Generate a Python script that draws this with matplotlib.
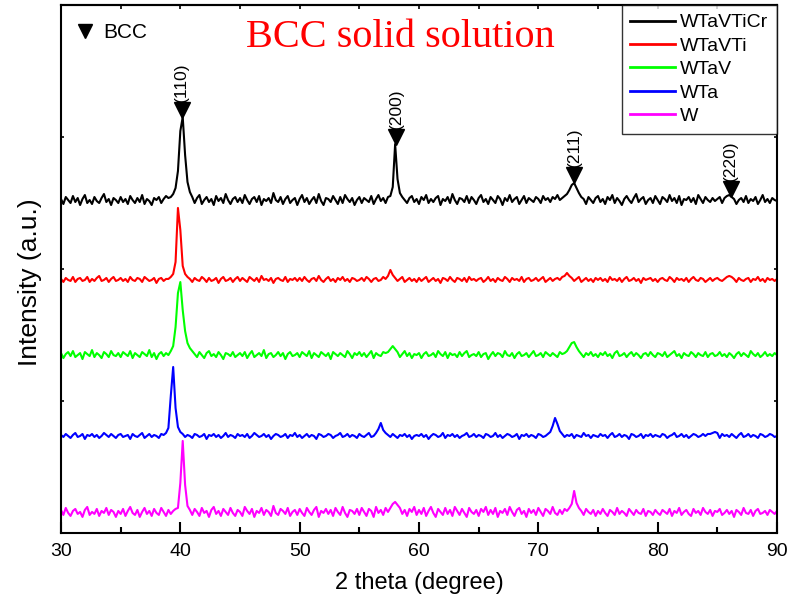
import numpy as np
import matplotlib
matplotlib.use("Agg")
import matplotlib.pyplot as plt

# 2theta grid, 0.2 degree step from 30 to 90
two_theta = np.round(30 + 0.2 * np.arange(301), 1)

# intensities (relative to each baseline, pixel units)
wtavticr = [
    2, -3, 4, 1, -2, 5, -1, 3, -4, 2, 6, -2, 1, -3, 4, 0, -2, 3, 7, -1, 2, -4, 3, 1, -2,
    4, -1, 2, -3, 5, 1, -2, 3, -1, 6, -3, 2, 0, -4, 3, 1, 4, -2, 2, 5, 3, 4, 7, 13, 30,
    70, 84, 46, 19, 9, 4, -2, 3, 6, -3, 1, 4, -1, 2, -4, 5, 0, 3, -2, 7, 1, -3, 2, 4, -1,
    3, -2, 6, 1, -3, 2, 4, -1, 5, -4, 2, 0, 3, -2, 8, 1, -1, 4, -3, 2, 5, -2, 1, 3, -4,
    2, 6, -1, 3, -3, 1, 4, -2, 7, 0, -4, 3, 2, -1, 5, 1, -3, 4, -2, 6, 2, -1, 3, -4, 1,
    4, -2, 3, 1, -1, 5, -3, 2, 6, 0, 3, -2, 4, 5, 14, 57, 22, 8, 4, 1, -2, 3, 5, -1, 2,
    -3, 4, 1, 6, -2, 2, -1, 3, 5, -4, 2, 0, 4, -2, 7, 1, -3, 3, 2, -1, 5, -2, 4, 1, -3,
    3, 6, -1, 2, -3, 4, 1, -2, 5, 2, -4, 3, 0, 6, -1, 2, 4, -3, 1, 5, -2, 3, 1, -1, 4,
    2, -2, 5, 1, 3, -1, 4, 2, 6, 1, 3, 5, 7, 11, 16, 18, 13, 8, 4, 2, -3, 4, 1, -2, 3,
    5, -1, 2, -3, 4, 1, 6, -2, 3, 0, -4, 2, 5, 1, -2, 3, 7, -1, 2, 4, -3, 1, 3, -2, 5,
    1, -3, 4, 2, -1, 6, 0, 3, -2, 5, -4, 2, 1, 4, -1, 3, -3, 6, 2, -2, 4, 1, -1, 3, 0,
    2, 4, -2, 3, 5, 6, 4, 2, -3, 1, 3, -1, 5, -2, 2, 0, 4, -3, 1, 6, -1, 2, -2, 3, 1,
    0]
wtavti = [
    1, -2, 2, 0, -1, 3, -2, 1, 2, -1, 0, 3, -2, 1, -1, 2, 4, -1, 0, 2, -2, 1, 3, -1, 0,
    2, -1, 1, -2, 3, 0, -1, 2, 1, -2, 3, 1, -1, 0, 2, -3, 1, 2, -1, 1, 1, 3, 6, 18, 72,
    50, 14, 6, 3, 1, -2, 2, 0, -1, 3, 1, -2, 2, -1, 0, 2, -3, 1, 3, -1, 0, 2, -2, 1, 3,
    -1, 2, 0, -2, 3, 1, -1, 2, -2, 4, 0, 1, -1, 2, -3, 1, 2, 0, -1, 3, -2, 1, 0, 2, -1,
    2, -1, 3, 0, -2, 1, 2, -1, 4, 0, -2, 1, 3, -1, 1, -2, 2, 0, 3, -1, 1, -2, 2, 1, -1,
    0, 2, -1, 3, 1, -2, 1, 2, -1, 0, 3, 1, 4, 10, 5, 2, -1, 1, 3, -2, 0, 2, -1, 1, -2,
    2, -1, 1, 3, -2, 0, 2, -1, 1, -3, 2, 1, -1, 3, 0, -2, 2, 1, -1, 2, -2, 3, 0, 1, -1,
    1, 2, -2, 0, 3, -1, 1, -2, 2, 0, -1, 3, 1, -2, 2, 0, 1, -1, 3, -2, 1, 2, -1, 0, 2,
    -1, 1, 3, -2, 0, 2, -1, 1, 2, 0, 3, 4, 7, 4, 2, -1, 1, 3, -2, 0, 2, -1, 1, -2, 2,
    0, 2, -1, 1, -2, 3, 0, 1, -1, 2, -2, 1, 3, -1, 0, 2, -1, 1, -3, 2, 0, 1, 2, -1, 1,
    -2, 1, 2, 0, -1, 3, 1, -2, 2, 0, 1, -1, 2, -2, 1, 3, 0, -1, 2, 1, -2, 0, 2, -1, 1,
    2, 0, -1, 1, 3, 4, 3, 1, -2, 2, 0, -1, 1, 2, -2, 1, 0, 3, -1, 1, -2, 2, 0, 1, -1,
    1]
wtav = [
    2, -3, 1, 3, -1, 4, -2, 0, 2, -4, 3, 1, -1, 5, -2, 2, 0, -3, 3, 1, -2, 4, 0, -1, 2,
    -2, 3, 1, -1, 4, -3, 2, 0, -2, 3, 1, -1, 5, -2, 2, -4, 1, 3, -1, 2, 0, 4, 9, 28, 62,
    73, 45, 24, 12, 7, 4, 1, -2, 3, 0, -3, 2, 4, -1, 1, -2, 3, 0, -4, 2, 1, -1, 3, -2, 0,
    2, -1, 3, -3, 1, 4, -2, 0, 2, -1, 5, -3, 1, 2, -2, 0, 3, -1, 2, -4, 1, 3, -1, 0, 2,
    -2, 3, 1, -1, 4, -3, 2, 0, -2, 3, 1, -1, 2, -4, 3, 1, -1, 2, 0, -2, 4, 1, -3, 2, 0,
    3, -1, 2, -2, 1, 4, -3, 2, 0, -1, 3, 2, 3, 6, 9, 6, 3, -2, 1, 4, -1, 2, -3, 1, 0,
    2, -3, 1, 3, -1, 0, 2, -2, 4, 1, -1, 3, -3, 2, 0, 1, -2, 3, -1, 2, 4, -2, 0, 1, -1,
    3, -2, 1, 2, -4, 0, 3, -1, 2, 1, -2, 4, 0, -1, 2, -3, 1, 3, -1, 0, 2, -2, 1, 4, -1,
    0, 2, -2, 3, 1, -1, 2, 0, -2, 3, 1, 2, 4, 8, 12, 13, 8, 4, 1, -2, 2, 0, 3, -1, 1,
    -2, 2, 0, 3, -1, 1, -3, 2, 4, -1, 0, 2, -2, 1, 3, -1, 2, 0, -3, 1, 2, -1, 3, 0, -2,
    2, 1, -1, 3, -2, 0, 2, 4, -1, 1, -3, 2, 0, -1, 3, 1, -2, 2, 0, -1, 3, -2, 1, 2, -1,
    0, 3, -1, 1, -2, 2, 0, -3, 1, 3, -1, 2, 0, -2, 4, 1, -1, 2, -2, 0, 3, -1, 1, -1, 2,
    0]
wta = [
    1, -1, 2, 0, -2, 1, 3, -1, 0, 2, -3, 1, 0, 2, -1, 1, -2, 0, 3, 1, -1, 2, 0, -2, 1,
    2, -1, 0, 1, -3, 2, 0, -1, 1, 3, -2, 0, 2, -1, 1, 0, -2, 2, 1, 3, 8, 40, 69, 28, 9,
    4, 2, -1, 1, 0, -2, 2, 1, -1, 0, 2, -3, 1, 0, 2, -1, 1, -2, 0, 3, -1, 1, 0, -2, 2,
    0, 1, -1, 2, -2, 0, 3, 1, -1, 0, 2, -1, 1, -3, 0, 2, 1, -1, 0, 2, -2, 1, 0, 3, -1,
    1, -2, 0, 2, -1, 1, 0, -3, 2, 1, -1, 0, 2, 1, -2, 0, 1, 3, -1, 0, 2, -1, 1, 0, -2,
    2, 0, -1, 1, 3, -1, 0, 3, 7, 13, 6, 3, 1, -1, 2, 0, -2, 1, 0, 2, -1, 1, -3, 0, 1,
    0, 2, -1, 1, -3, 0, 2, 1, -1, 0, 3, -2, 1, 0, 2, -1, 1, -2, 0, 1, 3, -1, 0, 2, -1,
    1, 0, -2, 2, 1, -1, 0, 3, -1, 1, -2, 0, 2, 1, -1, 0, 2, -3, 1, 0, 2, -1, 1, 0, -2,
    2, 1, -1, 0, 2, 4, 10, 18, 12, 5, 2, -1, 1, 0, 2, -2, 1, 0, -1, 3, 0, 1, -2, 1, 0,
    -1, 2, 0, 1, -2, 1, 3, -1, 0, 2, -1, 1, 0, -3, 2, 1, -1, 0, 2, -2, 1, 0, 2, -1, 1,
    0, -1, 2, 1, -2, 0, 1, 3, -1, 0, 2, -1, 1, -2, 0, 2, 1, -1, 0, 2, 0, 2, 2, 3, 4,
    3, -2, 2, 0, 1, -1, 2, 0, -2, 1, 3, -1, 0, 2, -1, 1, 0, -2, 2, 1, -1, 0, 2, 1, -1,
    0]
w = [
    3, -2, 5, 0, -3, 2, 4, -1, 1, -4, 3, 6, -2, 1, -1, 4, -3, 2, 0, 5, -2, 3, 1, -4, 2,
    -1, 4, -3, 2, 6, 0, -2, 3, -4, 1, 5, -1, 2, -3, 4, 0, -2, 5, 1, -3, 3, -1, 2, 4, 5,
    30, 72, 28, 7, 3, -2, 4, 1, -3, 5, 0, 2, -4, 3, 6, -1, 2, -3, 4, 1, -2, 5, 0, -3, 3,
    1, -3, 6, 2, -1, 4, -4, 2, 0, 5, -2, 3, 1, -3, 7, 0, -2, 4, 2, -1, 5, -3, 1, 3, -2,
    4, 0, -3, 5, 1, -2, 3, 6, -4, 2, 0, 4, -1, 3, -3, 5, 1, -2, 6, 0, -4, 3, 2, -1, 4,
    -2, 5, 1, -3, 4, 2, -4, 6, 0, 3, -2, 5, 1, 5, 9, 11, 8, 5, -1, 3, -3, 4, 1, 6, -2,
    3, -1, 5, -3, 2, 6, 0, -4, 4, 1, -2, 5, -1, 3, -3, 6, 2, -2, 4, 0, -4, 5, 1, -1, 3,
    -3, 4, 1, 6, -2, 3, -1, 5, -4, 2, 0, 4, -2, 6, 1, -3, 3, 5, -1, 2, -4, 4, 0, 3, -2,
    5, 1, -3, 4, 2, -1, 6, 0, -2, 3, -1, 4, 2, 5, 9, 22, 10, 5, 2, -2, 4, 1, -1, 3, -3,
    2, -1, 4, 0, -3, 3, 1, -2, 5, -1, 2, 0, -3, 4, 1, -2, 3, 0, -1, 4, -3, 2, 1, -2, 3,
    0, -2, 3, 1, -1, 4, -3, 2, 0, 5, -2, 1, 3, -1, -3, 4, 0, 2, -2, 5, 1, -1, 3, -3, 2,
    1, 4, -2, 0, 3, -1, 2, -4, 3, 1, -2, 5, 0, -1, 3, -3, 2, 4, -1, 0, 2, -2, 3, 1, -1,
    2]

labels = ["WTaVTiCr", "WTaVTi", "WTaV", "WTa", "W"]
series = [wtavticr, wtavti, wtav, wta, w]
offsets = [2.515, 1.917, 1.348, 0.735, 0.152]
colors = ["black", "red", "#00ff00", "blue", "magenta"]

# BCC reflections
hkl_labels = ["(110)", "(200)", "(211)", "(220)"]
hkl_theta = [40.1, 58.07, 73.03, 86.13]
hkl_y = [3.205, 3.0, 2.712, 2.606]

scale = 1 / 132.0
font = ["Liberation Sans", "DejaVu Sans"]

fig = plt.figure(figsize=(7.9, 6.12), dpi=100)
ax = fig.add_axes([61 / 790, 1 - 533 / 612, 716 / 790, 528 / 612])

for y, lab, off, c in zip(series, labels, offsets, colors):
    ax.plot(two_theta, off + np.array(y) * scale, color=c, lw=1.5, label=lab)

ax.plot(hkl_theta, hkl_y, "v", color="black", ms=11)
for lab, x, y in zip(hkl_labels, hkl_theta, hkl_y):
    ax.annotate(lab, (x, y), xytext=(0, 6), textcoords="offset points",
                rotation=90, ha="center", va="bottom", fontsize=12.5, family=font)

ax.set_xlim(30, 90)
ax.set_ylim(0, 4)
ax.set_xticks(np.arange(30, 91, 10))
ax.set_xticks(np.arange(30, 91, 5), minor=True)
ax.set_yticks([1, 2, 3])
ax.set_yticklabels([])
ax.tick_params(axis="x", which="major", direction="in", length=8, width=1.5, top=False,
               labelsize=14, pad=7)
ax.tick_params(axis="x", which="minor", direction="in", length=4.5, width=1.5, top=False)
ax.tick_params(axis="y", direction="in", length=2, width=1.2, right=True)
for t in ax.get_xticklabels():
    t.set_family(font)

top = ax.secondary_xaxis("top")
top.set_xticks(np.arange(30, 91, 5))
top.set_xticklabels([])
top.tick_params(direction="in", length=3, width=1.2)
top.spines["top"].set_linewidth(1.5)

for s in ax.spines.values():
    s.set_linewidth(1.5)

ax.set_xlabel("2 theta (degree)", fontsize=17, family=font, labelpad=9)
ax.set_ylabel("Intensity (a.u.)", fontsize=19, family=font)
ax.yaxis.set_label_coords(-0.026, 0.475)

ax.text(0.4735, 0.920, "BCC solid solution", transform=ax.transAxes, color="red",
        fontsize=29, family=["Liberation Serif", "DejaVu Serif"], ha="center", va="baseline")
ax.plot([0.0335], [0.951], "v", color="black", ms=10, transform=ax.transAxes)
ax.text(0.0587, 0.9375, "BCC", transform=ax.transAxes, fontsize=15, family=font,
        va="baseline")

leg = ax.legend(loc="upper right", borderaxespad=0, fancybox=False, edgecolor="black",
                handlelength=2.3, handletextpad=0.25, labelspacing=0.3,
                borderpad=0.45, prop={"family": font, "size": 14})
leg.get_frame().set_linewidth(1.0)
for h in leg.get_lines():
    h.set_linewidth(2.0)

fig.savefig("out.png", dpi=100)
